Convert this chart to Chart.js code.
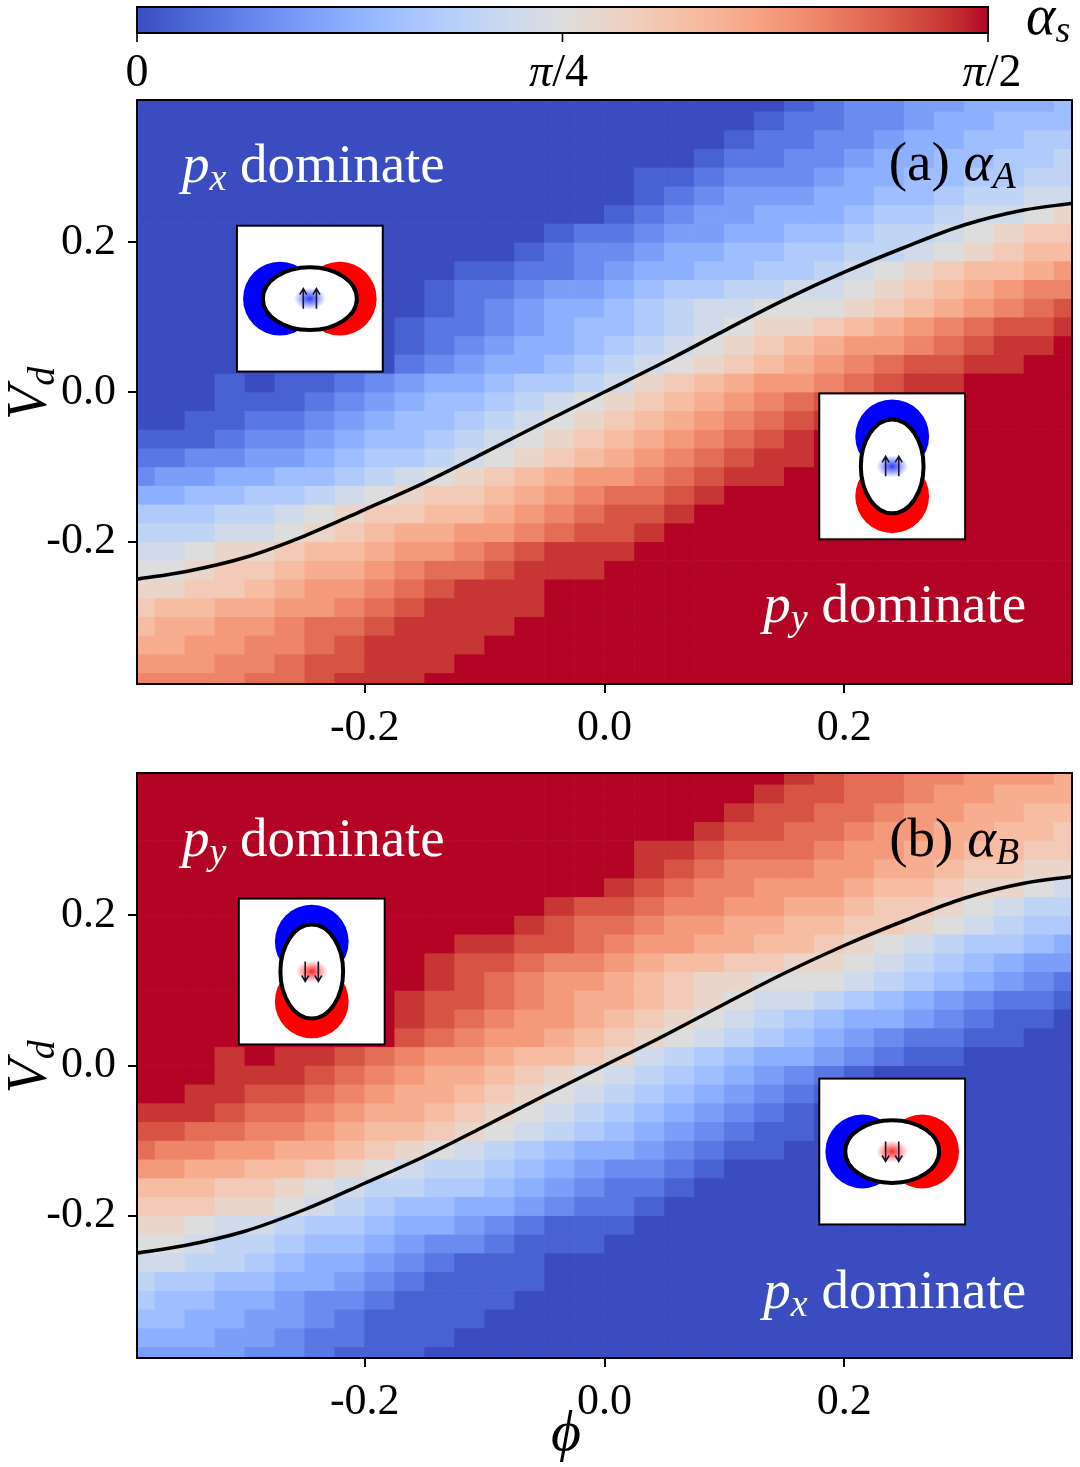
<!DOCTYPE html>
<html>
<head>
<meta charset="utf-8">
<script src="https://cdn.jsdelivr.net/npm/chart.js@4.4.0/dist/chart.umd.min.js"></script>
<style>
html, body { margin: 0; padding: 0; background: #fff; }
#wrap { position: relative; width: 1080px; height: 1467px; }
canvas { position: absolute; left: 0; }
#chartA { top: 0; }
#chartB { top: 760px; }
</style>
</head>
<body>
<div id="wrap">
<canvas id="chartA" width="1080" height="760"></canvas>
<canvas id="chartB" width="1080" height="707"></canvas>
</div>
<script>
// cell centres of the (phi, Vd) grid, columns left->right, rows top->bottom
const phiCenters = [-0.3875, -0.3625, -0.3375, -0.3125, -0.2875, -0.2625, -0.2375, -0.2125,
  -0.1875, -0.1625, -0.1375, -0.1125, -0.0875, -0.0625, -0.0375, -0.0125,
  0.0125, 0.0375, 0.0625, 0.0875, 0.1125, 0.1375, 0.1625, 0.1875,
  0.2125, 0.2375, 0.2625, 0.2875, 0.3125, 0.3375, 0.3625, 0.3875];
const vdCenters = [0.3875, 0.3625, 0.3375, 0.3125, 0.2875, 0.2625, 0.2375, 0.2125,
  0.1875, 0.1625, 0.1375, 0.1125, 0.0875, 0.0625, 0.0375, 0.0125,
  -0.0125, -0.0375, -0.0625, -0.0875, -0.1125, -0.1375, -0.1625, -0.1875,
  -0.2125, -0.2375, -0.2625, -0.2875, -0.3125, -0.3375, -0.3625, -0.3875];

// alpha levels: one char per cell, 0..K = 0..20 (x pi/40)
const alphaARows = [
  "00000000000000000000001233445556",
  "00000000000000000000012233455666",
  "00000000000000000000122334556677",
  "00000000000000000001223345566778",
  "00000000000000000112333455667788",
  "00000000000000000123444556678899",
  "000000000000000012344555677899AB",
  "0000000000000012234455667889ABCC",
  "000000000000012334556677889ABCDD",
  "0000000000011223455667789ABCDDEF",
  "000000000012234456778899ABCDEFGG",
  "000000000012345567899AAABCDEFGHI",
  "00000000012234566789ABBCDEFGHIIJ",
  "0000000001234556789ABCDEFFGHIJJK",
  "000000000234556789ABCDEFGHIIJJKK",
  "00010112345567789BCDEFFGHIJJKKKK",
  "000111234566789ABCDEFGHIJKKKKKKK",
  "00112234566789ABCDEFGHIJKKKKKKKK",
  "1112334566789ABCDEFGHIJKKKKKKKKK",
  "223344567789ABCDEFGHIJJKKKKKKKKK",
  "3445566789ABCDEFFGHIJJKKKKKKKKKK",
  "55667789ABCCDEFGHHIJKKKKKKKKKKKK",
  "777889ABCCDDEFGHIIJKKKKKKKKKKKKK",
  "88899ABCDEEFFGHIIJKKKKKKKKKKKKKK",
  "99ABBCDDEFFGHIJJJKKKKKKKKKKKKKKK",
  "AABCCDEEFGHHIJJJKKKKKKKKKKKKKKKK",
  "BBCCDEFFGHIJJJKKKKKKKKKKKKKKKKKK",
  "CDDEEFFGHIJJJJKKKKKKKKKKKKKKKKKK",
  "DEEFFGHHIJJJJKKKKKKKKKKKKKKKKKKK",
  "EEFFGGHIJJJJKKKKKKKKKKKKKKKKKKKK",
  "FFFGGHIIJJJKKKKKKKKKKKKKKKKKKKKK",
  "GGGGHHIJJJKKKKKKKKKKKKKKKKKKKKKK"
];
const alphaBRows = [
  "KKKKKKKKKKKKKKKKKKKKKKJIHHGGFFFE",
  "KKKKKKKKKKKKKKKKKKKKKJIIHHGFFEEE",
  "KKKKKKKKKKKKKKKKKKKKJIIHHGFFEEDD",
  "KKKKKKKKKKKKKKKKKKKJIIHHGFFEEDDC",
  "KKKKKKKKKKKKKKKKKJJIHHHGFFEEDDCC",
  "KKKKKKKKKKKKKKKKKJIHGGGFFEEDCCBB",
  "KKKKKKKKKKKKKKKKJIHGGFFFEDDCBBA9",
  "KKKKKKKKKKKKKKJIIHGGFFEEDCCBA988",
  "KKKKKKKKKKKKKJIHHGFFEEDDCCBA9877",
  "KKKKKKKKKKKJJIIHGFFEEDDCBA987765",
  "KKKKKKKKKKJIIHGGFEDDCCBBA9876544",
  "KKKKKKKKKKJIHGFFEDCBBAAA98765432",
  "KKKKKKKKKJIIHGFEEDCBA99876543221",
  "KKKKKKKKKJIHGFFEDCBA987655432110",
  "KKKKKKKKKIHGFFEDCBA9876543221100",
  "KKKJKJJIHGFFEDDCB987655432110000",
  "KKKJJJIHGFEEDCBA9876543210000000",
  "KKJJIIHGFEEDCBA98765432100000000",
  "JJJIHHGFEEDCBA987654321000000000",
  "IIHHGGFEDDCBA9876543211000000000",
  "HGGFFEEDCBA987655432110000000000",
  "FFEEDDCBA98876543321000000000000",
  "DDDCCBA9887765432210000000000000",
  "CCCBBA98766554322100000000000000",
  "BBA99877655432111000000000000000",
  "AA988766543321110000000000000000",
  "99887655432111000000000000000000",
  "87766554321111000000000000000000",
  "76655433211110000000000000000000",
  "66554432111100000000000000000000",
  "55544322111000000000000000000000",
  "44443321110000000000000000000000"
];

// black boundary curve
const boundaryPhi = [-0.39, -0.35, -0.30, -0.25, -0.20, -0.15, -0.10, -0.05, 0.00,
  0.05, 0.10, 0.15, 0.20, 0.25, 0.30, 0.35, 0.39];
const boundaryVd = [-0.250, -0.240, -0.221, -0.192, -0.157, -0.121, -0.081, -0.040, 0.000,
  0.040, 0.082, 0.123, 0.160, 0.193, 0.223, 0.243, 0.252];

const xTicks = [-0.2, 0.0, 0.2];
const yTicks = [-0.2, 0.0, 0.2];
const cbarTicks = [0, Math.PI / 4, Math.PI / 2];
const ALPHA_MAX = Math.PI / 2;

// ---- style ----
const HALF_CELL = 0.0125;
const FONT = '"Liberation Serif", "DejaVu Serif", serif';
const coolwarm = [[59,76,192],[68,90,204],[77,104,215],[87,117,225],[98,130,234],[108,142,241],
  [119,154,247],[130,165,251],[141,176,254],[152,185,255],[163,194,255],[174,201,253],[184,208,249],
  [194,213,244],[204,217,238],[213,219,230],[221,221,221],[229,216,209],[236,211,197],[241,204,185],
  [245,196,173],[247,187,160],[247,177,148],[247,166,135],[244,154,123],[241,141,111],[236,127,99],
  [229,112,88],[222,96,77],[213,80,66],[203,62,56],[192,40,47],[180,4,38]];

function cmapColor(t) {
  if (!isFinite(t)) return '#ffffff';
  t = Math.min(1, Math.max(0, t));
  const n = coolwarm.length - 1;
  const p = t * n, i = Math.min(Math.floor(p), n - 1), f = p - i;
  const a = coolwarm[i], b = coolwarm[i + 1];
  return 'rgb(' + [0, 1, 2].map(k => Math.round(a[k] + (b[k] - a[k]) * f)).join(',') + ')';
}

function rowsToAlpha(rows) {
  return rows.map(s => Array.from(s, ch => parseInt(ch, 36) / 20 * ALPHA_MAX));
}

function fontOf(p) { return (p.it ? 'italic ' : '') + p.size + 'px ' + FONT; }

function drawRich(ctx, parts, x, y, align, color) {
  let w = 0;
  parts.forEach(p => { ctx.font = fontOf(p); w += ctx.measureText(p.t).width; });
  let cx = align === 'right' ? x - w : (align === 'center' ? x - w / 2 : x);
  ctx.fillStyle = color || '#000';
  ctx.textAlign = 'left';
  ctx.textBaseline = 'alphabetic';
  parts.forEach(p => {
    ctx.font = fontOf(p);
    ctx.fillText(p.t, cx, y + (p.dy || 0));
    cx += ctx.measureText(p.t).width;
  });
}

const R = (t, size) => ({ t: t, size: size || 55 });
const P = (t, size) => ({ t: t, it: true, size: size || 55 });
const S = t => ({ t: t, it: true, size: 38, dy: 8 });

function drawInset(ctx, cx, cy, s, ins) {
  const h = s / 2;
  const horiz = ins.orient === 'h';
  ctx.save();
  ctx.fillStyle = '#fff';
  ctx.fillRect(cx - h, cy - h, s, s);
  ctx.beginPath();
  ctx.rect(cx - h, cy - h, s, s);
  ctx.clip();
  const off = 0.205 * s, r = 0.253 * s;
  [['#0000ff', -off], ['#ff0000', off]].forEach(([col, o]) => {
    ctx.fillStyle = col;
    ctx.beginPath();
    ctx.arc(cx + (horiz ? o : 0), cy + (horiz ? 0 : o), r, 0, 2 * Math.PI);
    ctx.fill();
  });
  ctx.beginPath();
  ctx.ellipse(cx, cy, horiz ? 0.322 * s : 0.215 * s, horiz ? 0.215 * s : 0.322 * s, 0, 0, 2 * Math.PI);
  ctx.fillStyle = '#fff';
  ctx.fill();
  ctx.lineWidth = 4;
  ctx.strokeStyle = '#000';
  ctx.stroke();
  // glow
  ctx.save();
  ctx.translate(cx, cy);
  ctx.scale(1.45, 1);
  const g = ctx.createRadialGradient(0, 0, 0, 0, 0, 0.075 * s);
  const rgb = ins.glow === 'red' ? '255,30,30' : '30,50,255';
  g.addColorStop(0, 'rgba(' + rgb + ',0.95)');
  g.addColorStop(1, 'rgba(' + rgb + ',0)');
  ctx.fillStyle = g;
  ctx.beginPath();
  ctx.arc(0, 0, 0.075 * s, 0, 2 * Math.PI);
  ctx.fill();
  ctx.restore();
  // arrows
  const dir = ins.arrow === 'down' ? 1 : -1;
  const L = 0.137 * s, dx = 0.045 * s;
  ctx.strokeStyle = '#15152e';
  ctx.lineWidth = 1.6;
  [-dx, dx].forEach(o => {
    const x0 = cx + o, yHead = cy + dir * L / 2, yTail = cy - dir * L / 2;
    ctx.beginPath();
    ctx.moveTo(x0, yTail); ctx.lineTo(x0, yHead);
    ctx.moveTo(x0 - 3.5, yHead - dir * 6); ctx.lineTo(x0, yHead); ctx.lineTo(x0 + 3.5, yHead - dir * 6);
    ctx.stroke();
  });
  ctx.restore();
  ctx.lineWidth = 2;
  ctx.strokeStyle = '#000';
  ctx.strokeRect(cx - h, cy - h, s, s);
}

function drawColorbar(ctx) {
  const cb = { left: 137, right: 988, top: 7, bottom: 33 };
  const grad = ctx.createLinearGradient(cb.left, 0, cb.right, 0);
  coolwarm.forEach((c, i) => grad.addColorStop(i / (coolwarm.length - 1), 'rgb(' + c.join(',') + ')'));
  ctx.fillStyle = grad;
  ctx.fillRect(cb.left, cb.top, cb.right - cb.left, cb.bottom - cb.top);
  ctx.strokeStyle = '#000';
  ctx.lineWidth = 2;
  ctx.strokeRect(cb.left, cb.top, cb.right - cb.left, cb.bottom - cb.top);
  const labels = [[R('0', 46)], [P('π', 46), R('/4', 46)], [P('π', 46), R('/2', 46)]];
  cbarTicks.forEach((v, i) => {
    const px = cb.left + v / ALPHA_MAX * (cb.right - cb.left);
    ctx.beginPath();
    ctx.moveTo(px, cb.bottom); ctx.lineTo(px, cb.bottom + 9);
    ctx.lineWidth = 1.6;
    ctx.stroke();
    drawRich(ctx, labels[i], px + (i === 2 ? 4 : (i === 1 ? -4 : 0)), 86, 'center', '#000');
  });
  drawRich(ctx, [P('α', 56), S('s')], 1026, 34, 'left', '#000');
}

function makeDecor(cfg) {
  return {
    id: 'decor',
    afterDatasetsDraw(chart) {
      const { ctx, chartArea: a, scales: { x, y } } = chart;
      ctx.save();
      cfg.insets.forEach(ins => drawInset(ctx, x.getPixelForValue(ins.phi), y.getPixelForValue(ins.vd), a.width * 0.156, ins));
      cfg.texts.forEach(t => drawRich(ctx, t.parts, x.getPixelForValue(t.phi), y.getPixelForValue(t.vd), t.align, t.color));
      ctx.strokeStyle = '#000';
      ctx.lineWidth = 2;
      ctx.strokeRect(a.left, a.top, a.width, a.height);
      // y axis title
      ctx.save();
      ctx.translate(46, (a.top + a.bottom) / 2 + 28);
      ctx.rotate(-Math.PI / 2);
      drawRich(ctx, [P('V', 56), S('d')], 0, 0, 'left', '#000');
      ctx.restore();
      if (cfg.xTitle) drawRich(ctx, [P('ϕ', 58)], 566, a.bottom + 92, 'center', '#000');
      if (cfg.colorbar) drawColorbar(ctx);
      if (cfg.rows.some(s => s.length !== phiCenters.length)) {
        ctx.fillStyle = '#f0f'; ctx.font = '14px sans-serif'; ctx.fillText('row length mismatch', 5, a.bottom + 20);
      }
      ctx.restore();
    }
  };
}

function heatDatasets(alpha) {
  return vdCenters.map((vd, r) => ({
    type: 'bar',
    data: phiCenters.map(p => ({ x: p, y: [vd - HALF_CELL, vd + HALF_CELL] })),
    backgroundColor: phiCenters.map((p, c) => cmapColor(alpha[r][c] / ALPHA_MAX)),
    borderWidth: 0,
    grouped: false,
    barPercentage: 1,
    categoryPercentage: 1,
    clip: 0,
    order: 1
  }));
}

function axis(ticksArr, fitFn, pad) {
  return {
    type: 'linear', min: -0.39, max: 0.39, offset: false,
    afterBuildTicks: ax => { ax.ticks = ticksArr.map(v => ({ value: v })); },
    afterFit: ax => {
      fitFn(ax);
      ax.paddingTop = 0; ax.paddingBottom = 0; ax.paddingLeft = 0; ax.paddingRight = 0;
    },
    grid: {
      display: true, drawOnChartArea: false, drawTicks: true, tickLength: 9,
      color: '#000', lineWidth: 0, tickWidth: 2, tickColor: '#000', offset: false
    },
    border: { display: false },
    ticks: { color: '#000', padding: pad, font: { family: FONT, size: 44 }, callback: v => Number(v).toFixed(1) }
  };
}

function makeChart(id, rows, cfg) {
  const alpha = rowsToAlpha(rows);
  cfg.rows = rows;
  return new Chart(document.getElementById(id), {
    type: 'bar',
    data: {
      datasets: [
        ...heatDatasets(alpha),
        {
          type: 'line',
          data: boundaryPhi.map((p, i) => ({ x: p, y: boundaryVd[i] })),
          borderColor: '#000', borderWidth: 3.5, pointRadius: 0,
          tension: 0.4, cubicInterpolationMode: 'monotone', fill: false, clip: 0, order: 0
        }
      ]
    },
    options: {
      responsive: false,
      animation: false,
      events: [],
      layout: { padding: { top: cfg.padTop, right: 8, left: 0, bottom: 0 } },
      plugins: { legend: { display: false }, tooltip: { enabled: false } },
      scales: {
        x: axis(xTicks, ax => { ax.height = cfg.xAxisH; }, 9),
        y: axis(yTicks, ax => { ax.width = 137; }, 12)
      }
    },
    plugins: [makeDecor(cfg)]
  });
}

makeChart('chartA', alphaARows, {
  padTop: 100, xAxisH: 76, colorbar: true, xTitle: false,
  insets: [
    { phi: -0.2458, vd: 0.1247, orient: 'h', glow: 'blue', arrow: 'up' },
    { phi: 0.2400, vd: -0.0993, orient: 'v', glow: 'blue', arrow: 'up' }
  ],
  texts: [
    { parts: [P('p'), S('x'), R(' dominate')], phi: -0.3525, vd: 0.28, align: 'left', color: '#fff' },
    { parts: [R('(a) '), P('α'), S('A')], phi: 0.343, vd: 0.283, align: 'right', color: '#000' },
    { parts: [P('p'), S('y'), R(' dominate')], phi: 0.3517, vd: -0.3067, align: 'right', color: '#fff' }
  ]
});

makeChart('chartB', alphaBRows, {
  padTop: 13, xAxisH: 109, colorbar: false, xTitle: true,
  insets: [
    { phi: -0.2442, vd: 0.1253, orient: 'v', glow: 'red', arrow: 'down' },
    { phi: 0.2400, vd: -0.1147, orient: 'h', glow: 'red', arrow: 'down' }
  ],
  texts: [
    { parts: [P('p'), S('y'), R(' dominate')], phi: -0.3525, vd: 0.28, align: 'left', color: '#fff' },
    { parts: [R('(b) '), P('α'), S('B')], phi: 0.346, vd: 0.279, align: 'right', color: '#000' },
    { parts: [P('p'), S('x'), R(' dominate')], phi: 0.3517, vd: -0.3227, align: 'right', color: '#fff' }
  ]
});
</script>
</body>
</html>
